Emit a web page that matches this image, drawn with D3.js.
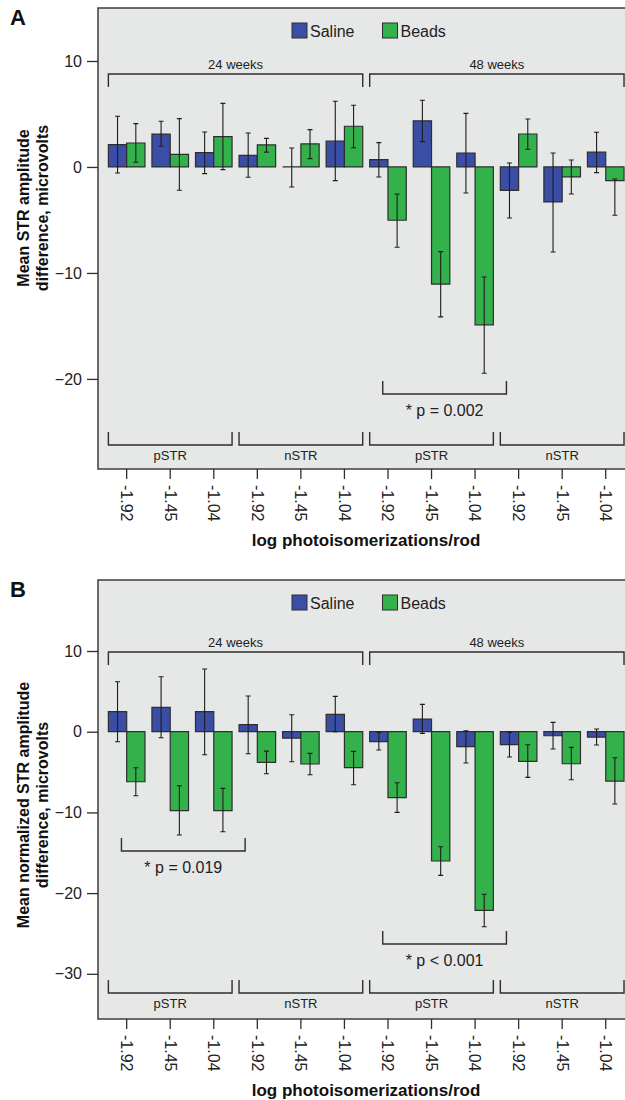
<!DOCTYPE html>
<html><head><meta charset="utf-8">
<script src="https://cdn.jsdelivr.net/npm/d3@7"></script>
<style>
html,body{margin:0;padding:0;background:#fff;}
text{font-family:"Liberation Sans",Arial,sans-serif;fill:#222;}
</style></head>
<body>
<svg id="chart" width="625" height="1100"></svg>
<script>
// ---------- DATA ----------
const intensities = ["-1.92", "-1.45", "-1.04"];
const regions = ["pSTR", "nSTR", "pSTR", "nSTR"];
const ages = ["24 weeks", "48 weeks"];
const seriesNames = ["Saline", "Beads"];

// Panel A: Mean STR amplitude difference (microvolts)
const salineA   = [2.1, 3.1, 1.35, 1.1, 0, 2.45, 0.7, 4.35, 1.3, -2.2, -3.3, 1.4];
const salineALo = [-0.57, 1.95, -0.63, -0.97, -1.89, -1.29, -0.94, 2.39, -2.45, -4.81, -8.02, -0.53];
const salineAHi = [4.78, 4.31, 3.3, 3.2, 1.79, 6.2, 2.3, 6.29, 5.06, 0.38, 1.32, 3.27];
const beadsA    = [2.26, 1.19, 2.86, 2.08, 2.17, 3.84, -5.03, -11.05, -14.9, 3.11, -0.94, -1.29];
const beadsALo  = [0.44, -2.2, -0.25, 1.4, 0.79, 1.82, -7.58, -14.15, -19.47, 1.67, -2.55, -4.56];
const beadsAHi  = [4.09, 4.56, 6.0, 2.7, 3.52, 5.82, -2.55, -7.99, -10.38, 4.53, 0.66, -1.13];
const ticksA = [10, 0, -10, -20];

// Panel B: Mean normalized STR amplitude difference (microvolts)
const salineB   = [2.48, 3.02, 2.48, 0.87, -0.79, 2.15, -1.24, 1.57, -1.86, -1.61, -0.5, -0.66];
const salineBLo = [-1.24, -0.74, -2.85, -2.73, -3.72, 0, -2.27, -0.2, -3.88, -3.14, -2.15, -1.65];
const salineBHi = [6.2, 6.82, 7.77, 4.42, 2.1, 4.38, -0.08, 3.39, 0.12, -0.08, 1.16, 0.33];
const beadsB    = [-6.2, -9.79, -9.79, -3.8, -4.0, -4.46, -8.18, -16.02, -22.13, -3.68, -3.97, -6.12];
const beadsBLo  = [-7.93, -12.8, -12.39, -5.2, -5.33, -6.57, -10.0, -17.8, -24.16, -5.66, -5.95, -8.96];
const beadsBHi  = [-4.46, -6.69, -7.02, -2.4, -2.69, -2.44, -6.32, -14.25, -20.15, -1.61, -1.94, -3.22];
const ticksB = [10, 0, -10, -20, -30];

// significance annotations: [first group, last group, label]
const sigA = [[6, 8, "* p = 0.002"]];
const sigB = [[0, 2, "* p = 0.019"], [6, 8, "* p < 0.001"]];

// ---------- DRAW ----------
const svg = d3.select("#chart");
const colors = {Saline: "#3b4ea5", Beads: "#33b24b"};
const ink = "#2e2e2e";

const groups = d3.range(12);
const x = d3.scaleBand().domain(groups).range([104.9, 627.5]).padding(0);
const barW = x.bandwidth() * 0.42;
const cx = i => x(i) + x.bandwidth() / 2;

function panel(opt) {
  const g = svg.append("g");
  const y = d3.scaleLinear().domain(opt.domain).range([opt.bottom, opt.top]);

  // frame
  g.append("rect").attr("x", 98).attr("y", opt.top)
    .attr("width", 560).attr("height", opt.bottom - opt.top)
    .attr("fill", "#e6e7e7").attr("stroke", "#3c3c3c").attr("stroke-width", 1.5);

  // panel letter
  g.append("text").attr("x", 10).attr("y", opt.top + 17)
    .style("font-size", "22px").style("font-weight", "bold").style("fill", "#111").text(opt.letter);

  // y axis
  const ya = g.append("g").attr("transform", "translate(98,0)")
    .call(d3.axisLeft(y).tickValues(opt.ticks).tickSize(11).tickPadding(5).tickFormat(d3.format("d")));
  ya.select(".domain").remove();
  ya.selectAll("line").attr("stroke", ink).attr("stroke-width", 1.3);
  ya.selectAll("text").style("font-size", "16px").style("font-family", "Liberation Sans, Arial, sans-serif").attr("fill", "#222");

  // y title
  const ytg = g.append("text").attr("transform", `translate(0,${opt.yTitleCenter}) rotate(-90)`)
    .attr("text-anchor", "middle").style("font-size", "16px").style("font-weight", "bold").style("fill", "#111");
  ytg.append("tspan").attr("x", 0).attr("y", 29).text(opt.yTitle[0]);
  ytg.append("tspan").attr("x", 0).attr("y", 48).text(opt.yTitle[1]);

  // x axis
  const xa = g.append("g").attr("transform", `translate(0,${opt.bottom})`)
    .call(d3.axisBottom(x).tickSize(10).tickFormat(i => intensities[i % 3]));
  xa.select(".domain").remove();
  xa.selectAll("line").attr("stroke", ink).attr("stroke-width", 1.3);
  xa.selectAll("text").attr("transform", "rotate(90)").attr("y", 0).attr("x", 16).attr("dy", "0.35em")
    .attr("text-anchor", "start").style("font-size", "16px")
    .style("font-family", "Liberation Sans, Arial, sans-serif").attr("fill", "#222");

  g.append("text").attr("x", 366).attr("y", opt.bottom + 77).attr("text-anchor", "middle")
    .style("font-size", "17px").style("font-weight", "bold").style("fill", "#111")
    .text("log photoisomerizations/rod");

  // legend
  const lg = g.append("g").attr("transform", `translate(0,${opt.top + 15})`);
  seriesNames.forEach((s, k) => {
    const lx = 292 + k * 90.5;
    lg.append("rect").attr("x", lx).attr("y", 0).attr("width", 15).attr("height", 15)
      .attr("fill", colors[s]).attr("stroke", ink).attr("stroke-width", 1);
    lg.append("text").attr("x", lx + 18).attr("y", 13.5).style("font-size", "16px").text(s);
  });

  // age brackets (top)
  ages.forEach((a, k) => {
    const x0 = cx(k * 6) - barW, x1 = cx(k * 6 + 5) + barW;
    const yl = opt.top + opt.ageLine;
    g.append("path").attr("d", `M${x0},${yl + 13}V${yl}H${x1}V${yl + 13}`)
      .attr("fill", "none").attr("stroke", ink).attr("stroke-width", 1.4);
    g.append("text").attr("x", (x0 + x1) / 2).attr("y", yl - 5.5).attr("text-anchor", "middle")
      .style("font-size", "13px").text(a);
  });

  // region brackets (bottom)
  regions.forEach((r, k) => {
    const x0 = cx(k * 3) - barW, x1 = cx(k * 3 + 2) + barW;
    const yl = opt.bottom - opt.regLine;
    g.append("path").attr("d", `M${x0},${yl - 13}V${yl}H${x1}V${yl - 13}`)
      .attr("fill", "none").attr("stroke", ink).attr("stroke-width", 1.4);
    g.append("text").attr("x", (x0 + x1) / 2).attr("y", yl + 15).attr("text-anchor", "middle")
      .style("font-size", "13px").text(r);
  });

  // bars
  const series = [
    {name: "Saline", v: opt.saline, lo: opt.salineLo, hi: opt.salineHi, off: -1},
    {name: "Beads", v: opt.beads, lo: opt.beadsLo, hi: opt.beadsHi, off: 0}
  ];
  series.forEach(s => {
    const bg = g.append("g");
    bg.selectAll("path").data(groups).join("path")
      .attr("d", i => {
        const bx = cx(i) + s.off * barW;
        return `M${bx},${y(0)}H${bx + barW}V${y(s.v[i])}H${bx}Z`;
      })
      .attr("fill", colors[s.name]).attr("stroke", ink).attr("stroke-width", 1.2);
  });
  series.forEach(s => {
    const eg = g.append("g").attr("stroke", "#1e1e1e").attr("stroke-width", 1.1).attr("fill", "none");
    eg.selectAll("path").data(groups).join("path")
      .attr("d", i => {
        const ex = cx(i) + s.off * barW + barW / 2;
        const y0 = y(s.lo[i]), y1 = y(s.hi[i]);
        return `M${ex},${y0}V${y1}M${ex - 2.5},${y0}H${ex + 2.5}M${ex - 2.5},${y1}H${ex + 2.5}`;
      });
  });

  // significance brackets
  opt.sig.forEach(([a, b, label]) => {
    const x0 = cx(a) - 0.12 * x.step(), x1 = cx(b) + 0.72 * x.step();
    const yl = opt.sigY[label];
    g.append("path").attr("d", `M${x0},${yl - 13}V${yl}H${x1}V${yl - 13}`)
      .attr("fill", "none").attr("stroke", ink).attr("stroke-width", 1.4);
    g.append("text").attr("x", (x0 + x1) / 2).attr("y", yl + 22).attr("text-anchor", "middle")
      .style("font-size", "16px").text(label);
  });
}

panel({
  letter: "A", top: 8, bottom: 469, domain: [-28.5, 15], ticks: ticksA,
  yTitle: ["Mean STR amplitude", "difference, microvolts"], yTitleCenter: 208,
  saline: salineA, salineLo: salineALo, salineHi: salineAHi,
  beads: beadsA, beadsLo: beadsALo, beadsHi: beadsAHi,
  ageLine: 66, regLine: 24, sig: sigA, sigY: {"* p = 0.002": 394}
});
panel({
  letter: "B", top: 580, bottom: 1019, domain: [-35.6, 18.8], ticks: ticksB,
  yTitle: ["Mean normalized STR amplitude", "difference, microvolts"], yTitleCenter: 805,
  saline: salineB, salineLo: salineBLo, salineHi: salineBHi,
  beads: beadsB, beadsLo: beadsBLo, beadsHi: beadsBHi,
  ageLine: 72, regLine: 26, sig: sigB, sigY: {"* p = 0.019": 851, "* p < 0.001": 944}
});
</script>
</body></html>
